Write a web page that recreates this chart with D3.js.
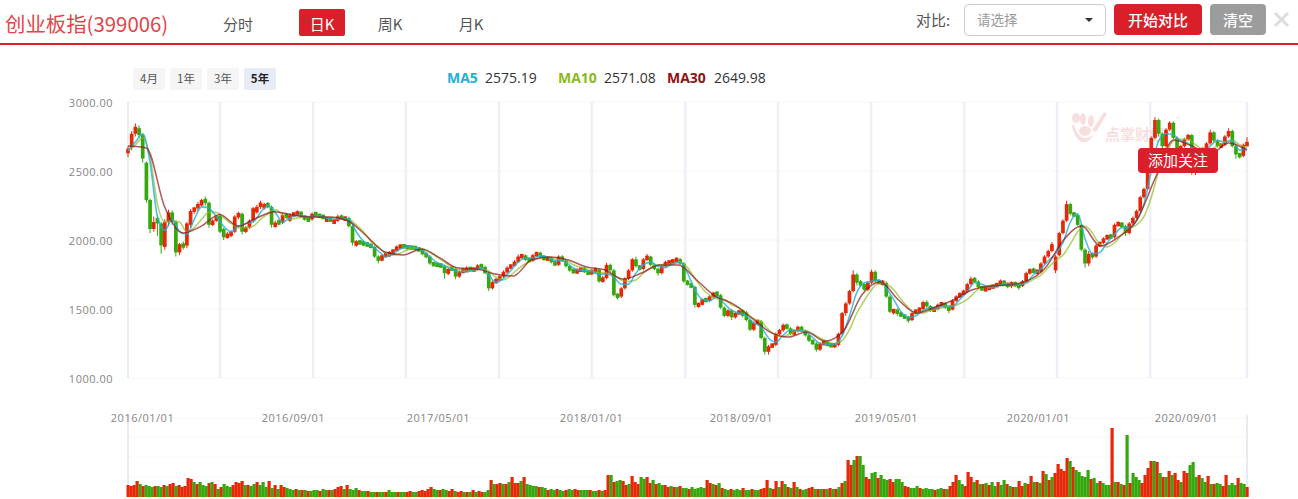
<!DOCTYPE html>
<html>
<head>
    <meta charset='utf-8'>
    <title>创业板指</title>
    <style type="text/css">
        html, body { margin: 0; padding: 0; background: #fff; overflow: hidden; }
        svg { display: block; font-family: "Noto Sans CJK SC", "Noto Sans", sans-serif; }
        .axis path, .axis line { display: none; }
        .axis text { font-family: "Open Sans", sans-serif; font-size: 11px; fill: #858585; letter-spacing: 0.5px; }
    </style>
</head>
<body>
    <script src="https://cdn.jsdelivr.net/npm/d3@7/dist/d3.min.js"></script>
    <div id="svgContainer"></div>

    <script type="text/javascript">

        // sampled daily candles, ten per row
        const opens = [
            2630,2670,2770,2810,2760,2560,2290,2080,2160,2120,
            1950,2130,2200,2130,1910,1970,1960,2110,2210,2230,
            2250,2295,2270,2110,2140,2175,2080,2020,2030,2060,
            2170,2190,2060,2090,2140,2200,2240,2230,2265,2240,
            2100,2135,2125,2180,2140,2180,2185,2205,2175,2150,
            2150,2195,2180,2175,2145,2155,2125,2140,2175,2150,
            2160,2100,1965,1990,1985,1975,1965,1950,1880,1850,
            1890,1885,1905,1925,1950,1960,1950,1950,1945,1940,
            1925,1900,1880,1830,1825,1820,1810,1755,1795,1790,
            1735,1770,1775,1795,1780,1785,1820,1805,1760,1650,
            1695,1710,1735,1765,1800,1815,1840,1880,1885,1860,
            1850,1890,1905,1880,1860,1870,1840,1820,1880,1850,
            1810,1780,1765,1780,1795,1770,1755,1775,1785,1700,
            1725,1820,1780,1600,1590,1650,1720,1780,1860,1810,
            1790,1860,1880,1820,1790,1760,1810,1835,1840,1850,
            1860,1830,1700,1680,1660,1530,1530,1570,1560,1590,
            1620,1600,1510,1450,1490,1440,1470,1490,1475,1420,
            1350,1400,1410,1290,1190,1230,1240,1320,1345,1385,
            1360,1320,1340,1370,1340,1310,1270,1250,1205,1250,
            1255,1240,1235,1240,1320,1470,1540,1630,1750,1690,
            1680,1640,1690,1770,1700,1690,1690,1590,1480,1490,
            1470,1450,1440,1420,1470,1490,1500,1550,1520,1490,
            1500,1530,1540,1510,1495,1560,1590,1610,1625,1680,
            1720,1700,1660,1640,1645,1660,1665,1680,1700,1680,
            1670,1690,1670,1665,1700,1760,1785,1770,1770,1830,
            1880,1920,1780,1890,2050,2140,2260,2190,2180,2110,
            1930,1830,1900,1880,1960,1980,2010,2030,2020,2110,
            2120,2100,2050,2120,2160,2210,2310,2370,2560,2740,
            2870,2770,2680,2800,2850,2740,2650,2680,2730,2760,
            2490,2620,2640,2660,2700,2780,2720,2680,2690,2750,
            2790,2680,2620,2610,2690
        ];
        const closes = [
            2660,2770,2820,2760,2590,2290,2080,2130,2120,1960,
            2130,2200,2130,1910,1970,1950,2120,2210,2230,2260,
            2290,2270,2110,2140,2170,2060,2020,2040,2060,2170,
            2190,2060,2090,2140,2230,2240,2270,2260,2240,2110,
            2120,2120,2180,2170,2180,2190,2200,2170,2150,2145,
            2190,2180,2170,2160,2150,2140,2140,2170,2150,2160,
            2100,1980,1985,1975,1965,1960,1950,1880,1850,1890,
            1890,1910,1925,1950,1955,1950,1945,1940,1940,1925,
            1900,1880,1830,1820,1815,1810,1760,1790,1790,1735,
            1770,1780,1790,1785,1790,1815,1800,1760,1650,1695,
            1710,1735,1770,1800,1815,1840,1880,1885,1860,1850,
            1890,1905,1880,1860,1870,1840,1820,1880,1850,1810,
            1780,1770,1780,1790,1770,1755,1780,1785,1700,1725,
            1820,1780,1600,1590,1650,1720,1780,1860,1810,1790,
            1860,1880,1820,1790,1760,1810,1840,1840,1850,1860,
            1830,1700,1680,1660,1530,1530,1570,1560,1590,1615,
            1600,1510,1450,1490,1440,1470,1480,1450,1420,1350,
            1400,1410,1290,1190,1230,1240,1320,1345,1385,1360,
            1320,1340,1370,1340,1310,1270,1250,1205,1250,1255,
            1240,1235,1240,1320,1470,1540,1630,1750,1690,1680,
            1640,1690,1770,1700,1690,1690,1590,1480,1490,1470,
            1450,1440,1420,1470,1490,1500,1550,1520,1490,1500,
            1530,1540,1510,1495,1560,1590,1610,1625,1680,1720,
            1700,1660,1640,1645,1660,1665,1680,1700,1680,1670,
            1690,1670,1665,1700,1760,1785,1770,1770,1830,1880,
            1920,1970,1880,2050,2140,2260,2190,2180,2110,1930,
            1830,1900,1880,1960,1980,2010,2030,2020,2110,2120,
            2100,2050,2120,2160,2210,2310,2370,2560,2740,2870,
            2770,2680,2800,2850,2740,2650,2680,2730,2760,2490,
            2620,2640,2660,2700,2780,2720,2680,2690,2750,2790,
            2680,2620,2610,2690,2700
        ];
        const highs = [
            2680,2790,2845,2830,2770,2570,2300,2170,2180,2130,
            2150,2220,2215,2140,1980,1990,2130,2225,2240,2275,
            2300,2315,2280,2150,2180,2190,2090,2060,2070,2180,
            2205,2200,2100,2150,2240,2255,2285,2270,2275,2250,
            2140,2150,2195,2190,2195,2200,2215,2210,2180,2170,
            2200,2205,2190,2185,2160,2165,2150,2185,2185,2170,
            2170,2110,2000,2000,1995,1985,1975,1960,1890,1895,
            1900,1920,1935,1960,1965,1970,1960,1955,1955,1945,
            1935,1910,1890,1840,1835,1830,1820,1800,1810,1800,
            1780,1800,1810,1805,1800,1825,1830,1815,1770,1705,
            1725,1745,1780,1810,1825,1855,1895,1900,1895,1870,
            1900,1915,1915,1890,1880,1880,1850,1890,1890,1860,
            1820,1790,1795,1800,1805,1780,1790,1800,1790,1740,
            1835,1830,1790,1615,1660,1730,1790,1870,1880,1820,
            1870,1900,1885,1830,1800,1820,1850,1850,1860,1875,
            1870,1840,1710,1690,1670,1540,1575,1580,1600,1625,
            1630,1610,1520,1500,1500,1480,1490,1500,1485,1430,
            1410,1420,1420,1300,1240,1250,1330,1355,1395,1395,
            1370,1350,1380,1380,1350,1320,1280,1260,1260,1265,
            1265,1250,1245,1330,1480,1550,1640,1780,1760,1710,
            1690,1700,1785,1780,1715,1710,1700,1600,1500,1505,
            1480,1460,1450,1480,1500,1510,1560,1565,1530,1510,
            1540,1550,1550,1520,1570,1600,1620,1640,1690,1735,
            1730,1710,1670,1660,1670,1675,1690,1715,1710,1690,
            1700,1700,1680,1710,1770,1795,1800,1785,1840,1890,
            1930,1985,1890,2060,2150,2285,2270,2200,2190,2120,
            1940,1920,1910,1970,1990,2020,2040,2045,2120,2135,
            2130,2110,2130,2170,2220,2320,2380,2570,2750,2890,
            2880,2780,2810,2860,2860,2750,2690,2740,2770,2770,
            2630,2650,2675,2710,2800,2790,2730,2700,2760,2810,
            2800,2690,2630,2700,2745
        ];
        const lows = [
            2600,2650,2750,2740,2560,2270,2050,2060,2030,1900,
            1930,2100,2110,1880,1890,1930,1940,2090,2190,2210,
            2240,2250,2090,2100,2130,2050,2000,2010,2020,2050,
            2150,2040,2050,2080,2130,2190,2225,2220,2230,2090,
            2090,2105,2115,2155,2130,2165,2175,2160,2140,2130,
            2140,2170,2160,2150,2135,2130,2115,2130,2145,2140,
            2090,1960,1950,1965,1955,1950,1940,1870,1830,1845,
            1875,1875,1895,1915,1940,1945,1935,1930,1930,1915,
            1890,1870,1820,1810,1805,1800,1720,1745,1780,1715,
            1725,1760,1765,1775,1770,1780,1790,1750,1630,1640,
            1685,1700,1725,1755,1790,1810,1835,1870,1850,1840,
            1840,1880,1870,1850,1850,1830,1810,1810,1840,1800,
            1770,1755,1755,1770,1760,1745,1745,1770,1690,1690,
            1715,1770,1590,1570,1580,1640,1710,1770,1800,1780,
            1780,1850,1810,1780,1740,1750,1800,1825,1830,1840,
            1820,1690,1670,1650,1510,1510,1525,1550,1550,1585,
            1590,1500,1440,1440,1420,1430,1460,1440,1410,1340,
            1340,1390,1280,1170,1170,1220,1230,1310,1335,1350,
            1310,1310,1330,1330,1300,1260,1240,1190,1195,1240,
            1230,1225,1220,1230,1310,1450,1530,1620,1670,1660,
            1630,1630,1680,1690,1680,1670,1580,1470,1460,1450,
            1440,1430,1400,1410,1460,1480,1490,1510,1480,1480,
            1490,1520,1500,1470,1490,1550,1580,1600,1615,1670,
            1690,1650,1630,1630,1640,1650,1660,1670,1670,1650,
            1650,1660,1640,1660,1695,1750,1760,1750,1760,1820,
            1870,1910,1760,1880,2040,2130,2180,2170,2100,1920,
            1800,1810,1860,1870,1950,1970,2000,2010,2010,2100,
            2090,2030,2040,2110,2150,2200,2300,2360,2550,2730,
            2750,2660,2670,2790,2730,2630,2640,2670,2720,2470,
            2470,2610,2630,2650,2690,2710,2670,2670,2680,2740,
            2670,2590,2590,2600,2680
        ];

        const ma5 = [
            2650,2710,2770,2560,2170, 2070,2150,2060,2040,2150,
            2240,2230,2170,2100,2060, 2100,2120,2130,2200,2250,
            2200,2130,2160,2180,2170, 2170,2175,2160,2150,2155,
            2150,2060,1990,1960,1920, 1880,1900,1935,1950,1945,
            1925,1880,1835,1815,1790, 1770,1770,1785,1800,1745,
            1695,1720,1780,1840,1870, 1870,1885,1875,1850,1850,
            1815,1785,1780,1770,1750, 1755,1730,1680,1680,1760,
            1820,1840,1810,1800,1830, 1840,1760,1640,1570,1560,
            1590,1540,1490,1470,1450, 1400,1370,1290,1260,1310,
            1350,1345,1335,1295,1250, 1245,1245,1305,1450,1620,
            1690,1700,1710,1650,1570, 1480,1440,1450,1490,1510,
            1510,1525,1520,1570,1625, 1690,1680,1655,1665,1680,
            1680,1680,1690,1750,1790, 1850,1900,1980,2130,2190,
            2010,1900,1910,1980,2040, 2090,2090,2140,2260,2500,
            2720,2770,2760,2720,2700, 2640,2620,2680,2720,2710,
            2720,2650,2665
        ];
        const ma10 = [
            2650,2690,2740,2600,2260, 2130,2140,2130,2060,2090,
            2150,2200,2200,2160,2120, 2090,2090,2100,2150,2190,
            2220,2180,2150,2160,2165, 2165,2170,2165,2160,2150,
            2150,2110,2060,1990,1950, 1905,1890,1905,1930,1945,
            1935,1910,1875,1840,1805, 1785,1775,1775,1790,1775,
            1730,1710,1745,1790,1830, 1855,1870,1875,1860,1860,
            1835,1810,1795,1775,1765, 1760,1745,1710,1700,1710,
            1760,1800,1820,1820,1825, 1840,1800,1720,1650,1600,
            1575,1570,1530,1510,1470, 1430,1410,1350,1310,1300,
            1320,1345,1345,1320,1290, 1265,1250,1270,1350,1470,
            1560,1640,1690,1680,1640, 1570,1510,1470,1470,1490,
            1500,1515,1520,1540,1570, 1620,1660,1670,1670,1670,
            1675,1680,1685,1715,1745, 1800,1850,1890,1970,2060,
            2100,2050,1970,1950,1980, 2040,2080,2110,2170,2310,
            2500,2620,2720,2730,2730, 2690,2660,2660,2680,2710,
            2725,2690,2670
        ];
        const ma30 = [
            2681,2667,2239,2051,2101,2185,2101,2159,2205,2181,
            2167,2167,2138,2029,1913,1891,1935,1870,1797,1790,
            1754,1739,1855,1877,1855,1804,1783,1717,1761,1819,
            1819,1710,1594,1536,1435,1333,1297,1333,1268,1341,
            1601,1696,1565,1471,1514,1565,1638,1667,1674,1703,
            1797,2000,2101,1957,2022,2145,2449,2725,2681,2623,
            2703,2650
        ];

        // volume per sampled day, negative = down day
        const volumes = [
            12,11,12,16,-13,11,-12,-11,-10,11,
            -11,-10,12,-11,13,14,-11,12,10,11,
            19,18,-15,13,-15,-12,-11,14,-15,13,
            -8,10,-13,-11,-10,12,15,14,16,-12,
            12,-11,-13,15,-12,-15,-10,16,-9,12,
            -8,12,10,-9,-8,-7,8,-7,7,-7,
            6,-6,-7,-7,6,-8,-7,7,-7,8,
            10,11,-8,12,-8,-7,-9,7,-6,-6,
            6,-5,-5,5,-5,-5,5,-7,-5,-5,
            5,-5,-5,5,6,-5,-5,6,7,6,
            8,10,-8,-7,7,-8,-7,6,8,-6,
            5,6,-5,5,-5,7,-5,6,5,-5,
            -7,17,-13,13,14,-13,13,-15,20,14,
            14,-16,20,-13,-12,-11,-11,10,-10,-9,
            7,-8,-7,8,-7,-6,7,-8,-7,8,
            7,-7,-7,-7,7,-6,-6,7,-6,7,
            22,-22,15,-16,-17,16,12,-13,21,15,
            13,-20,-18,20,14,-17,13,-14,-12,12,
            10,-11,10,-10,11,-9,-9,8,-10,-8,
            -9,-10,-9,17,14,-13,12,-14,9,-8,
            -7,8,-7,-8,-7,9,-7,-7,8,-7,
            -7,8,9,17,-9,8,16,-10,16,-13,
            10,-9,15,-10,8,-7,-8,9,10,-8,
            8,-8,8,-8,9,-8,8,-10,14,-16,
            37,32,-37,41,-41,-32,20,18,-24,-25,
            19,-22,-18,-17,18,15,-18,-18,-15,11,
            10,-9,-9,-11,9,-8,-9,-8,-8,7,
            -8,-9,8,-8,11,15,22,-17,-13,11,
            25,20,-15,17,-13,13,-14,12,-15,-11,
            15,-12,-17,13,-11,10,-10,16,11,-14,
            13,21,-15,15,-14,26,-23,17,-20,24,
            33,28,26,39,-36,30,-27,-25,-21,-20,
            -27,18,-19,-14,16,-14,-12,-12,69,-15,
            15,-13,12,-62,14,-24,-20,-17,14,22,
            29,36,-36,35,-24,20,-20,26,-22,24,
            17,-15,26,24,-32,-35,-20,22,-19,-15,
            21,-13,13,-14,-13,11,22,-12,-14,-12,
            19,-14,-13,10
        ];

        const priceTicks = [1000, 1500, 2000, 2500, 3000];
        const dateLabels = ["2016/01/01", "2016/09/01", "2017/05/01", "2018/01/01", "2018/09/01", "2019/05/01", "2020/01/01", "2020/09/01"];
        const dateLabelPos = [3.8, 44.8, 84.2, 125.8, 166.5, 205.9, 247.2, 287.4];
        const gridPos = [0, 25, 50.3, 75.5, 100.8, 126, 151.4, 176.6, 201.9, 227.2, 252.4, 277.7, 304];
        const rangeLabels = ["4月", "1年", "3年", "5年"];
        const tabLabels = ["分时", "日K", "周K", "月K"];
        const legendNames = ["MA5", "MA10", "MA30"];
        const legendValues = ["2575.19", "2571.08", "2649.98"];

        const width = 1298;
        const height = 499;
        const red = "#d91f2a";
        const upColor = "#e52807";
        const downColor = "#35a80e";
        const maColors = ["#22b0d8", "#8cba1c", "#8f1212"];

        const svg = d3.select("#svgContainer").append("svg")
            .attr("width", width)
            .attr("height", height);

        const left = 128, right = 1247;
        const x = d3.scaleLinear().domain([0, closes.length - 1]).range([left, right]);
        const y = d3.scaleLinear().domain([1000, 3000]).range([378, 102]);
        const yVol = d3.scaleLinear().domain([0, 82]).range([497, 415]);

        // header
        svg.append("text").attr("x", 5).attr("y", 32)
            .attr("font-size", 20.4).attr("fill", "#e5444a").text("创业板指(399006)");
        svg.append("rect").attr("x", 0).attr("y", 43).attr("width", width).attr("height", 2).attr("fill", red);

        const tabX = [238, 322, 390, 471];
        svg.append("rect").attr("x", 299).attr("y", 9).attr("width", 46).attr("height", 27).attr("rx", 2).attr("fill", red);
        svg.selectAll(".tab").data(tabLabels).join("text")
            .attr("x", (d, i) => tabX[i]).attr("y", 30)
            .attr("text-anchor", "middle").attr("font-size", 15)
            .attr("fill", (d, i) => i == 1 ? "#fff" : "#555").text(d => d);

        svg.append("text").attr("x", 916).attr("y", 26).attr("font-size", 15).attr("fill", "#555").text("对比:");
        svg.append("rect").attr("x", 964.5).attr("y", 4.5).attr("width", 141).attr("height", 31).attr("rx", 4)
            .attr("fill", "#fff").attr("stroke", "#ccc");
        svg.append("text").attr("x", 977).attr("y", 25).attr("font-size", 13.5).attr("fill", "#999").text("请选择");
        svg.append("path").attr("d", "M1085 18h8l-4 4z").attr("fill", "#333");
        svg.append("rect").attr("x", 1114).attr("y", 4).attr("width", 88).attr("height", 31).attr("rx", 4).attr("fill", red);
        svg.append("text").attr("x", 1158).attr("y", 26).attr("text-anchor", "middle").attr("font-size", 15).attr("font-weight", 500).attr("fill", "#fff").text("开始对比");
        svg.append("rect").attr("x", 1210).attr("y", 4).attr("width", 56).attr("height", 31).attr("rx", 4).attr("fill", "#9c9c9c");
        svg.append("text").attr("x", 1238).attr("y", 26).attr("text-anchor", "middle").attr("font-size", 15).attr("font-weight", 500).attr("fill", "#fff").text("清空");
        svg.append("path").attr("d", "M1275 13l13 13M1288 13l-13 13").attr("stroke", "#ddd").attr("stroke-width", 3);

        // range buttons
        svg.selectAll(".range").data(rangeLabels).join("rect")
            .attr("x", (d, i) => 133 + i * 37).attr("y", 68).attr("width", 32).attr("height", 22).attr("rx", 2)
            .attr("fill", (d, i) => i == 3 ? "#e6ebf5" : "#f5f5f5");
        svg.selectAll(".rangeText").data(rangeLabels).join("text")
            .attr("x", (d, i) => 149 + i * 37).attr("y", 83)
            .attr("text-anchor", "middle").attr("font-size", 11.5)
            .attr("font-weight", (d, i) => i == 3 ? 700 : 400)
            .attr("fill", (d, i) => i == 3 ? "#222" : "#555").text(d => d);

        // legend
        const legendX = [447, 558, 667];
        const legendValX = [485, 604, 714];
        svg.selectAll(".legName").data(legendNames).join("text")
            .attr("x", (d, i) => legendX[i]).attr("y", 83)
            .attr("font-family", "'Open Sans', sans-serif").attr("font-size", 14).attr("font-weight", 700)
            .attr("fill", (d, i) => maColors[i]).text(d => d);
        svg.selectAll(".legVal").data(legendValues).join("text")
            .attr("x", (d, i) => legendValX[i]).attr("y", 83)
            .attr("font-family", "'Open Sans', sans-serif").attr("font-size", 14)
            .attr("fill", "#333").text(d => d);

        // grid
        svg.selectAll(".hgrid").data(priceTicks).join("line")
            .attr("x1", left).attr("x2", right).attr("y1", d => y(d)).attr("y2", d => y(d))
            .attr("stroke", "#f6f6f6");
        svg.selectAll(".vgrid").data(gridPos).join("line")
            .attr("x1", d => x(d)).attr("x2", d => x(d)).attr("y1", y(3000)).attr("y2", y(1000))
            .attr("stroke", (d, i) => i == 0 ? "#d5dbe6" : "#edf0f6")
            .attr("stroke-width", (d, i) => i == 0 ? 1 : 2.5);

        svg.append("g").attr("class", "axis")
            .attr("transform", `translate(${left - 7},1)`)
            .call(d3.axisLeft(y).tickValues(priceTicks).tickFormat(d3.format(".2f")).tickSize(0).tickPadding(8));

        svg.selectAll(".vhgrid").data([20, 40, 60, 79]).join("line")
            .attr("x1", left).attr("x2", right).attr("y1", d => yVol(d)).attr("y2", d => yVol(d))
            .attr("stroke", "#f7f7f7");
        svg.selectAll(".vvgrid").data([0, closes.length - 1]).join("line")
            .attr("x1", d => x(d)).attr("x2", d => x(d)).attr("y1", yVol(82)).attr("y2", yVol(0))
            .attr("stroke", "#e6eaf2").attr("stroke-width", 2);

        const dateAxis = d3.scaleOrdinal().domain(dateLabels).range(dateLabelPos.map(d => x(d)));
        svg.append("g").attr("class", "axis")
            .attr("transform", "translate(0,422)")
            .call(d3.axisBottom(dateAxis).tickSize(0).tickPadding(0))
            .selectAll("text").attr("dy", 0);

        // watermark
        const mark = svg.append("g").attr("fill", "#f7dfdf");
        mark.append("ellipse").attr("cx", 1076).attr("cy", 118).attr("rx", 4).attr("ry", 5);
        mark.append("ellipse").attr("cx", 1083).attr("cy", 119).attr("rx", 3).attr("ry", 6);
        mark.append("ellipse").attr("cx", 1091).attr("cy", 121).attr("rx", 3).attr("ry", 6);
        mark.append("ellipse").attr("cx", 1085).attr("cy", 131).attr("rx", 6).attr("ry", 5);
        mark.append("path").attr("d", "M1074 124c3 14 13 18 20 10c-6 12-18 12-22-8zM1092 130l12-18l3 2l-11 18z");
        mark.append("text").attr("x", 1105).attr("y", 140).attr("font-size", 15).attr("font-weight", 700).text("点掌财经");
        mark.append("text").attr("x", 1176).attr("y", 122).attr("font-size", 8).text("®");

        // volume
        const xVol = d3.scaleLinear().domain([0, volumes.length - 1]).range([left, right]);
        const volStep = (right - left) / (volumes.length - 1);
        svg.append("g").selectAll("rect").data(volumes).join("rect")
            .attr("x", (d, i) => xVol(i) - volStep / 2)
            .attr("y", d => yVol(Math.abs(d)))
            .attr("width", volStep + 0.2)
            .attr("height", d => yVol(0) - yVol(Math.abs(d)))
            .attr("fill", d => d > 0 ? upColor : downColor);

        // candles
        const candles = closes.map((c, i) => ({i: i, o: opens[i], c: c, h: highs[i], l: lows[i]}));
        const candle = svg.append("g").selectAll("g").data(candles).join("g")
            .attr("stroke", d => d.c >= d.o ? upColor : downColor)
            .attr("fill", d => d.c >= d.o ? upColor : downColor);
        candle.append("line")
            .attr("x1", d => x(d.i)).attr("x2", d => x(d.i))
            .attr("y1", d => y(d.h)).attr("y2", d => y(d.l));
        candle.append("rect")
            .attr("stroke", "none")
            .attr("x", d => x(d.i) - 1.85).attr("width", 3.7)
            .attr("y", d => (y(d.o) + y(d.c)) / 2 - Math.max(4.5, Math.abs(y(d.o) - y(d.c))) / 2)
            .attr("height", d => Math.max(4.5, Math.abs(y(d.o) - y(d.c))));

        // moving averages
        const maLine = (values, color, w, op) => {
            const xMa = d3.scaleLinear().domain([0, values.length - 1]).range([left, right]);
            svg.append("path").datum(values)
                .attr("fill", "none").attr("stroke", color)
                .attr("stroke-width", w).attr("stroke-opacity", op)
                .attr("d", d3.line().x((d, i) => xMa(i)).y(d => y(d)).curve(d3.curveMonotoneX));
        };
        maLine(ma10, maColors[1], 1.6, 0.65);
        maLine(ma5, maColors[0], 1.6, 0.8);
        maLine(ma30, maColors[2], 1.5, 0.7);

        // follow button
        svg.append("rect").attr("x", 1138).attr("y", 148).attr("width", 80).attr("height", 25).attr("rx", 4).attr("fill", red);
        svg.append("text").attr("x", 1178).attr("y", 166).attr("text-anchor", "middle").attr("font-size", 15).attr("fill", "#fff").text("添加关注");

    </script>
</body>
</html>
